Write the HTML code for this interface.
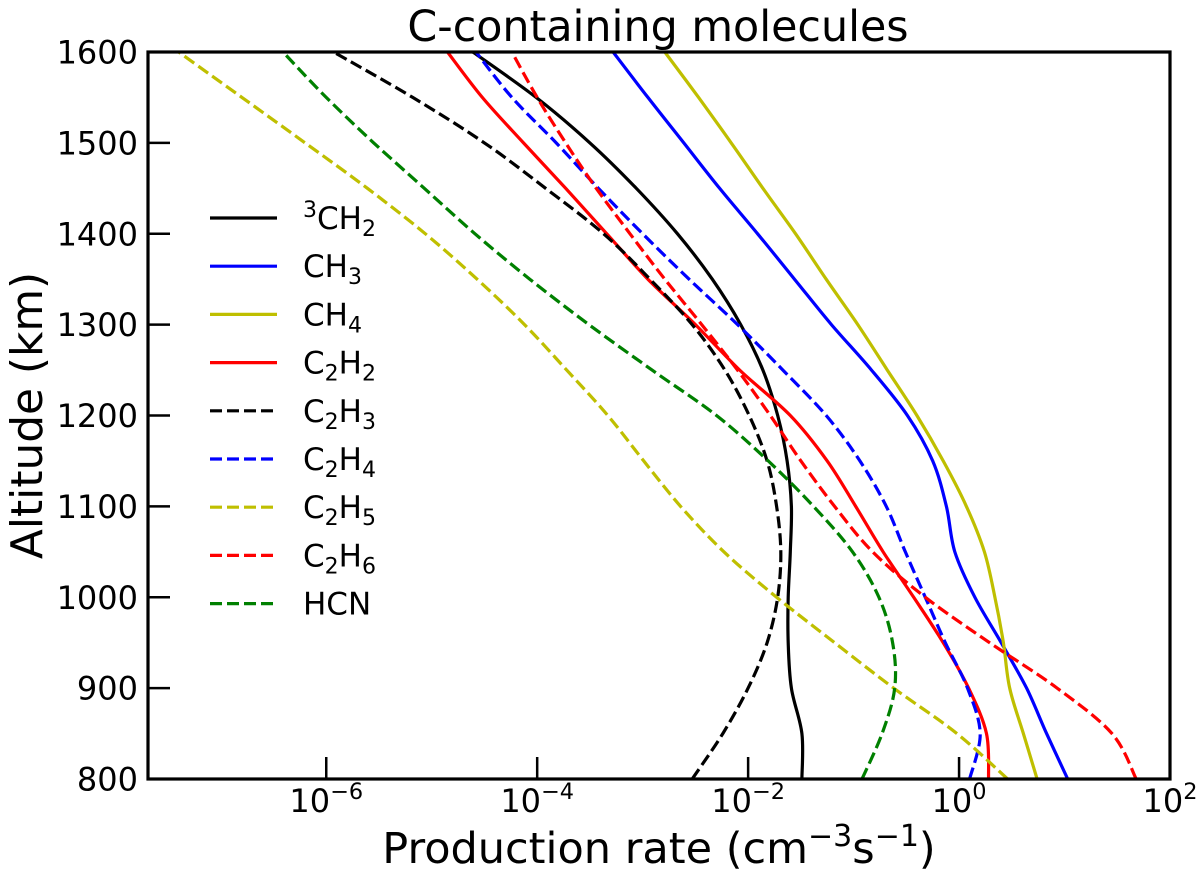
<!DOCTYPE html>
<html>
<head>
<meta charset="utf-8">
<title>C-containing molecules</title>
<style>
html,body{margin:0;padding:0;background:#fff;}
svg{display:block;}
text{font-family:"DejaVu Sans","Liberation Sans",sans-serif;fill:#000;}
</style>
</head>
<body>
<svg id="chart" xmlns="http://www.w3.org/2000/svg" width="1200" height="877" viewBox="0 0 1200 877">
  <defs><clipPath id="plot-clip"><rect x="148" y="52" width="1022" height="727"/></clipPath></defs>
  <rect x="0" y="0" width="1200" height="877" fill="#fff"/>
  <g id="series-layer" clip-path="url(#plot-clip)"></g>
  <g id="tick-layer"></g>
  <rect x="148" y="52" width="1022" height="727" fill="none" stroke="#000" stroke-width="3.2"/>
  <g id="legend-layer"></g>
  <text x="658" y="41" font-size="42.8" text-anchor="middle">C-containing molecules</text>
  <text transform="translate(42,415.5) rotate(-90)" font-size="43.8" text-anchor="middle">Altitude (km)</text>
  <text x="659" y="863" font-size="43" text-anchor="middle">Production rate (cm<tspan font-size="30" dy="-17">−3</tspan><tspan dy="17">s</tspan><tspan font-size="30" dy="-17">−1</tspan><tspan dy="17">)</tspan></text>
</svg>
<script>
var altitudes = [800,850,900,950,1000,1050,1100,1150,1200,1250,1300,1350,1400,1450,1500,1550,1600];
var log10Rate3CH2 = [-1.49,-1.49,-1.59,-1.62,-1.62,-1.60,-1.59,-1.63,-1.72,-1.86,-2.07,-2.34,-2.67,-3.06,-3.50,-4.01,-4.61];
var log10RateCH3  = [1.03,0.83,0.64,0.40,0.15,-0.04,-0.12,-0.25,-0.49,-0.83,-1.21,-1.56,-1.91,-2.27,-2.61,-2.95,-3.28];
var log10RateCH4  = [0.74,0.61,0.48,0.42,0.34,0.24,0.07,-0.15,-0.40,-0.68,-0.96,-1.26,-1.55,-1.86,-2.16,-2.47,-2.79];
var log10RateC2H2 = [0.28,0.26,0.09,-0.15,-0.43,-0.72,-0.98,-1.25,-1.60,-2.08,-2.50,-2.95,-3.34,-3.73,-4.13,-4.52,-4.85];
var log10RateC2H3 = [-2.53,-2.24,-2.00,-1.82,-1.72,-1.69,-1.73,-1.82,-1.99,-2.22,-2.53,-2.93,-3.37,-3.92,-4.50,-5.18,-5.93];
var log10RateC2H4 = [0.10,0.20,0.08,-0.13,-0.32,-0.51,-0.69,-0.94,-1.26,-1.67,-2.10,-2.56,-3.00,-3.42,-3.82,-4.24,-4.58];
var log10RateC2H5 = [0.46,-0.02,-0.62,-1.18,-1.73,-2.23,-2.64,-2.99,-3.33,-3.72,-4.12,-4.57,-5.06,-5.61,-6.20,-6.80,-7.40];
var log10RateC2H6 = [1.68,1.45,0.93,0.29,-0.32,-0.82,-1.18,-1.50,-1.79,-2.10,-2.44,-2.79,-3.12,-3.44,-3.73,-4.00,-4.24];
var log10RateHCN  = [-0.92,-0.73,-0.61,-0.63,-0.76,-1.01,-1.38,-1.81,-2.30,-2.91,-3.51,-4.07,-4.59,-5.07,-5.55,-6.00,-6.41];
var xTickExponents = [-6,-4,-2,0,2];
var yTickLabels = [800,900,1000,1100,1200,1300,1400,1500,1600];

var SVG_NS = 'http://www.w3.org/2000/svg';
var XMIN = -7.69, XMAX = 2, YMIN = 800, YMAX = 1600;
var PL = 148, PR = 1170, PT = 52, PB = 779;
function xScale(logValue) { return PL + (logValue - XMIN) / (XMAX - XMIN) * (PR - PL); }
function yScale(alt) { return PB - (alt - YMIN) / (YMAX - YMIN) * (PB - PT); }

function smoothPath(xs, ys) {
  var pts = xs.map(function (x, i) { return [xScale(x), yScale(ys[i])]; });
  var d = 'M' + pts[0][0].toFixed(1) + ' ' + pts[0][1].toFixed(1);
  for (var i = 0; i < pts.length - 1; i++) {
    var p0 = pts[Math.max(i - 1, 0)], p1 = pts[i], p2 = pts[i + 1], p3 = pts[Math.min(i + 2, pts.length - 1)];
    var c1x = p1[0] + (p2[0] - p0[0]) / 6, c1y = p1[1] + (p2[1] - p0[1]) / 6;
    var c2x = p2[0] - (p3[0] - p1[0]) / 6, c2y = p2[1] - (p3[1] - p1[1]) / 6;
    d += 'C' + c1x.toFixed(1) + ' ' + c1y.toFixed(1) + ' ' + c2x.toFixed(1) + ' ' + c2y.toFixed(1) + ' ' + p2[0].toFixed(1) + ' ' + p2[1].toFixed(1);
  }
  return d;
}

var DASH = '12 5';
var seriesList = [
  {key: '3ch2', values: log10Rate3CH2, color: '#000000', dashed: false, label: [['3', 'sup'], ['CH', ''], ['2', 'sub']]},
  {key: 'ch3',  values: log10RateCH3,  color: '#0000ff', dashed: false, label: [['CH', ''], ['3', 'sub']]},
  {key: 'ch4',  values: log10RateCH4,  color: '#bfbf00', dashed: false, label: [['CH', ''], ['4', 'sub']]},
  {key: 'c2h2', values: log10RateC2H2, color: '#ff0000', dashed: false, label: [['C', ''], ['2', 'sub'], ['H', ''], ['2', 'sub']]},
  {key: 'c2h3', values: log10RateC2H3, color: '#000000', dashed: true,  label: [['C', ''], ['2', 'sub'], ['H', ''], ['3', 'sub']]},
  {key: 'c2h4', values: log10RateC2H4, color: '#0000ff', dashed: true,  label: [['C', ''], ['2', 'sub'], ['H', ''], ['4', 'sub']]},
  {key: 'c2h5', values: log10RateC2H5, color: '#bfbf00', dashed: true,  label: [['C', ''], ['2', 'sub'], ['H', ''], ['5', 'sub']]},
  {key: 'c2h6', values: log10RateC2H6, color: '#ff0000', dashed: true,  label: [['C', ''], ['2', 'sub'], ['H', ''], ['6', 'sub']]},
  {key: 'hcn',  values: log10RateHCN,  color: '#008000', dashed: true,  label: [['HCN', '']]}
];

var seriesLayer = document.getElementById('series-layer');
var tickLayer = document.getElementById('tick-layer');
var legendLayer = document.getElementById('legend-layer');

seriesList.forEach(function (s) {
  var el = document.createElementNS(SVG_NS, 'path');
  
  
  el.setAttribute('d', smoothPath(s.values, altitudes));
  el.setAttribute('fill', 'none');
  el.setAttribute('stroke', s.color);
  el.setAttribute('stroke-width', '3.2');
  if (s.dashed) el.setAttribute('stroke-dasharray', DASH);
  seriesLayer.appendChild(el);
});

xTickExponents.forEach(function (exp) {
  var x = xScale(exp);
  var tick = document.createElementNS(SVG_NS, 'line');
  
  
  tick.setAttribute('x1', x);
  tick.setAttribute('x2', x);
  tick.setAttribute('y1', PB);
  tick.setAttribute('y2', PB - 22);
  tick.setAttribute('stroke', '#000');
  tick.setAttribute('stroke-width', '2.5');
  tickLayer.appendChild(tick);
  var label = document.createElementNS(SVG_NS, 'text');
  
  
  label.setAttribute('x', x);
  label.setAttribute('y', 812);
  label.setAttribute('font-size', '32');
  label.setAttribute('text-anchor', 'middle');
  label.textContent = '10';
  var sup = document.createElementNS(SVG_NS, 'tspan');
  sup.setAttribute('font-size', '22.4');
  sup.setAttribute('dy', '-13');
  sup.textContent = String(exp).replace('-', '\u2212');
  label.appendChild(sup);
  tickLayer.appendChild(label);
});

yTickLabels.forEach(function (alt) {
  var y = yScale(alt);
  var tick = document.createElementNS(SVG_NS, 'line');
  
  
  tick.setAttribute('x1', PL);
  tick.setAttribute('x2', PL + 22);
  tick.setAttribute('y1', y);
  tick.setAttribute('y2', y);
  tick.setAttribute('stroke', '#000');
  tick.setAttribute('stroke-width', '2.5');
  tickLayer.appendChild(tick);
  var label = document.createElementNS(SVG_NS, 'text');
  
  
  label.setAttribute('x', 138);
  label.setAttribute('y', y + 11.5);
  label.setAttribute('font-size', '32');
  label.setAttribute('text-anchor', 'end');
  label.textContent = String(alt);
  tickLayer.appendChild(label);
});

seriesList.forEach(function (s, i) {
  var y = 218 + i * 48.2;
  var sample = document.createElementNS(SVG_NS, 'line');
  
  
  sample.setAttribute('x1', 210);
  sample.setAttribute('x2', 277);
  sample.setAttribute('y1', y);
  sample.setAttribute('y2', y);
  sample.setAttribute('stroke', s.color);
  sample.setAttribute('stroke-width', '3.2');
  if (s.dashed) sample.setAttribute('stroke-dasharray', DASH);
  legendLayer.appendChild(sample);
  var label = document.createElementNS(SVG_NS, 'text');
  
  
  label.setAttribute('x', 303);
  label.setAttribute('y', y + 11);
  label.setAttribute('font-size', '31');
  var shift = 0;
  s.label.forEach(function (part) {
    var span = document.createElementNS(SVG_NS, 'tspan');
    var target = part[1] === 'sub' ? 7 : (part[1] === 'sup' ? -12 : 0);
    span.setAttribute('dy', target - shift);
    shift = target;
    if (part[1]) span.setAttribute('font-size', '22');
    span.textContent = part[0];
    label.appendChild(span);
  });
  legendLayer.appendChild(label);
});
</script>
</body>
</html>
